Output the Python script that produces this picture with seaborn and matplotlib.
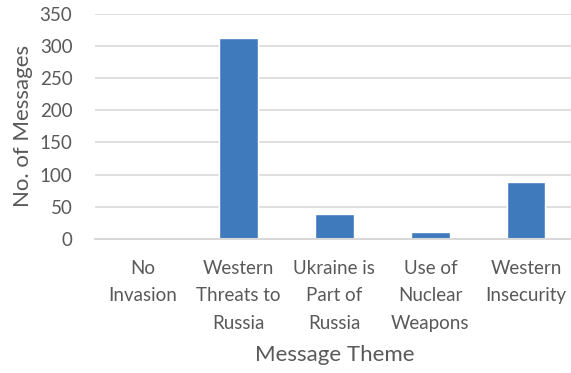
import matplotlib
matplotlib.use("Agg")
import matplotlib.pyplot as plt
import seaborn as sns
import pandas as pd

categories = ["No\nInvasion", "Western\nThreats to\nRussia", "Ukraine is\nPart of\nRussia",
              "Use of\nNuclear\nWeapons", "Western\nInsecurity"]
values = [0, 312, 38, 11, 88]
yticks = [0, 50, 100, 150, 200, 250, 300, 350]

df = pd.DataFrame({"theme": categories, "count": values})

sns.set_theme(style="white")
plt.rcParams["font.family"] = ["Lato", "DejaVu Sans"]

text_color = "#595959"
grid_color = "#D9D9D9"
bar_color = "#3F7ABD"

fig = plt.figure(figsize=(5.71, 3.73), dpi=100)
ax = fig.add_axes([94.6 / 571, 1 - 238.7 / 373, (574.2 - 94.6) / 571, (238.7 - 14) / 373])

sns.barplot(data=df, x="theme", y="count", color=bar_color, width=0.4, ax=ax,
            saturation=1, zorder=3)

ax.set_ylim(0, 350)
ax.set_xlim(-0.5, 4.5)
ax.set_yticks(yticks)
ax.set_yticklabels([str(t) for t in yticks])
ax.yaxis.grid(True, color=grid_color, linewidth=1.2, zorder=0)
ax.xaxis.grid(False)
for s in ["top", "right", "left"]:
    ax.spines[s].set_visible(False)
ax.spines["bottom"].set_color(grid_color)
ax.spines["bottom"].set_linewidth(1.5)
ax.spines["bottom"].set_zorder(4)

ax.tick_params(axis="y", length=0, pad=16, labelsize=13.5, labelcolor=text_color)
ax.tick_params(axis="x", length=0, pad=15, labelsize=13.5, labelcolor=text_color)
for lbl in ax.get_xticklabels():
    lbl.set_linespacing(1.75)
    lbl.set_multialignment("center")

ax.set_xlabel("Message Theme", fontsize=16, color=text_color, labelpad=10)
ax.set_ylabel("No. of Messages", fontsize=16, color=text_color, labelpad=5)

fig.savefig("out.png", dpi=100)
